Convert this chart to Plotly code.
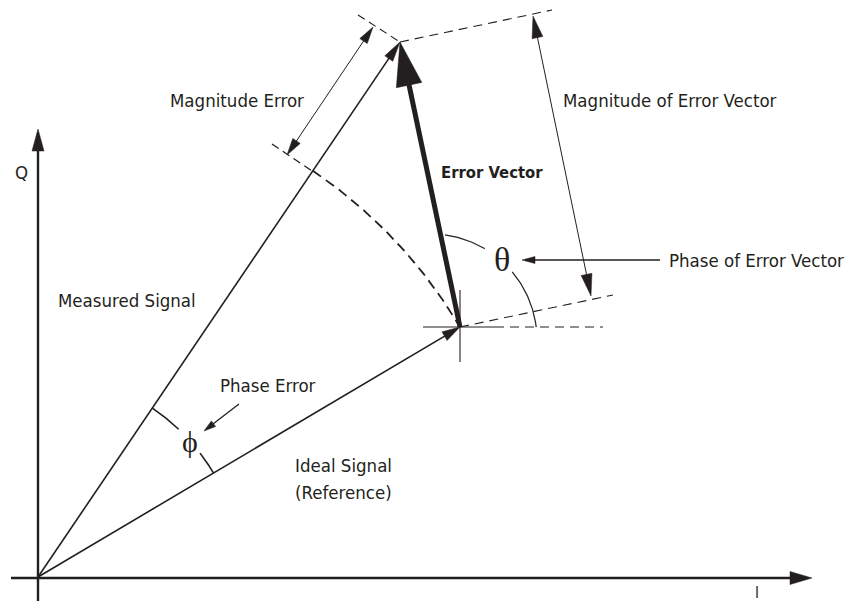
import numpy as np
import plotly.graph_objects as go

# ---- diagram geometry (pixel-like coordinates, y grows downward) ----
ORIGIN = (38, 577)
IDEAL = (460, 327)
MEASURED = (400, 42)
X_AXIS = [(11, 578), (812, 578)]
Y_AXIS = [(38, 601), (38, 129)]
MAG_ERR_DIM = [(287, 155), (373, 27)]
MAG_EV_DIM = [(533, 16), (591, 296)]
PHASE_EV_ARROW = [(660, 260), (522, 260)]
PHASE_ERR_ARROW = [(239, 404), (204, 431)]
EXT_TIP_LEFT = [(358, 15), (400, 42)]
EXT_TIP_RIGHT = [(400, 42), (552, 10)]
EXT_IDEAL_RIGHT = [(460, 327), (613, 295)]
EXT_ARC_LEFT = [(272, 144), (312, 171)]
CROSS_H_SOLID = [(423, 327), (495, 327)]
CROSS_H_DASH = [(495, 327), (603, 327)]
CROSS_V = [(460, 290), (460, 362)]
THETA_CENTER = (431, 340)
THETA_R = 106
THETA_SEGS = [(82.4, 59.5), (40.0, 7.0)]
PHI_R = 204
PHI_SEGS = [(55.9, 46.4), (37.4, 30.6)]

LABELS = [
    ("Q", 21, 172, False, 18.5),
    ("Measured Signal", 127, 300, False, 18.5),
    ("Magnitude Error", 237, 100, False, 18.5),
    ("Error Vector", 492, 172, True, 16.5),
    ("Magnitude of Error Vector", 670, 100, False, 18.5),
    ("Phase of Error Vector", 756, 260, False, 18.5),
    ("Phase Error", 268, 385, False, 18.5),
    ("Ideal Signal", 343, 465, False, 18.5),
    ("(Reference)", 343, 492, False, 18.5),
]
SYMBOLS = [("θ", 502, 259, 34), ("ϕ", 190, 441, 30)]

INK = "#231f20"
FONT = "Liberation Sans Narrow, DejaVu Sans Condensed, Roboto, Arial"

# the page adds an 8px body margin; the figure is sized to fit the window
PAGE_OFFSET = 8
WIN_W, WIN_H = 854, 601

fig = go.Figure()
shapes = []


def line(p, q, w=1.2, dash="solid"):
    shapes.append(dict(type="line", xref="x", yref="y", x0=p[0], y0=p[1],
                       x1=q[0], y1=q[1], line=dict(color=INK, width=w, dash=dash)))


def head(tip, tail, length, halfw):
    tx, ty = tip
    dx, dy = tip[0] - tail[0], tip[1] - tail[1]
    n = np.hypot(dx, dy)
    ux, uy = dx / n, dy / n
    bx, by = tx - ux * length, ty - uy * length
    px, py = -uy, ux
    path = (f"M {tx},{ty} L {bx + px * halfw},{by + py * halfw} "
            f"L {bx - px * halfw},{by - py * halfw} Z")
    shapes.append(dict(type="path", xref="x", yref="y", path=path,
                       fillcolor=INK, line=dict(color=INK, width=0.5)))


def back_off(tip, tail, d):
    dx, dy = tip[0] - tail[0], tip[1] - tail[1]
    n = np.hypot(dx, dy)
    return (tip[0] - dx / n * d, tip[1] - dy / n * d)


def arc(center, r, a0, a1, w, dash):
    t = np.radians(np.linspace(a0, a1, 60))
    xs = center[0] + r * np.cos(t)
    ys = center[1] - r * np.sin(t)
    fig.add_trace(go.Scatter(x=xs, y=ys, mode="lines", hoverinfo="skip",
                             line=dict(color=INK, width=w, dash=dash),
                             showlegend=False))


# axes
line(X_AXIS[0], back_off(X_AXIS[1], X_AXIS[0], 10), w=2.4)
head(X_AXIS[1], X_AXIS[0], 22, 6.5)
line(Y_AXIS[0], back_off(Y_AXIS[1], Y_AXIS[0], 10), w=2.4)
head(Y_AXIS[1], Y_AXIS[0], 22, 6)

# ideal and measured signal vectors
line(ORIGIN, back_off(IDEAL, ORIGIN, 8), w=1.6)
head(IDEAL, ORIGIN, 18, 5)
line(ORIGIN, back_off(MEASURED, ORIGIN, 8), w=1.6)
head(MEASURED, ORIGIN, 20, 4.8)

# error vector
line(IDEAL, back_off(MEASURED, IDEAL, 30), w=5)
head(MEASURED, IDEAL, 44, 13)

# extension / construction lines
line(*EXT_TIP_LEFT, w=1.1, dash="8px,5px")
line(*EXT_TIP_RIGHT, w=1.1, dash="9px,6px")
line(*EXT_IDEAL_RIGHT, w=1.1, dash="9px,6px")
line(*EXT_ARC_LEFT, w=1.3, dash="8px,5px")
line(*CROSS_H_SOLID, w=1.1)
line(*CROSS_H_DASH, w=1.1, dash="9px,6px")
line(*CROSS_V, w=1.1)

# dashed magnitude arc from measured line to ideal point
r_ideal = np.hypot(IDEAL[0] - ORIGIN[0], ORIGIN[1] - IDEAL[1])
a_meas = np.degrees(np.arctan2(ORIGIN[1] - MEASURED[1], MEASURED[0] - ORIGIN[0]))
a_ideal = np.degrees(np.arctan2(ORIGIN[1] - IDEAL[1], IDEAL[0] - ORIGIN[0]))
arc(ORIGIN, r_ideal, a_meas, a_ideal, 1.8, "10px,6px")

# angle arcs
for a0, a1 in THETA_SEGS:
    arc(THETA_CENTER, THETA_R, a0, a1, 1.2, "solid")
for a0, a1 in PHI_SEGS:
    arc(ORIGIN, PHI_R, a0, a1, 1.6, "solid")

# dimension arrows
for dim, L, hw in [(MAG_ERR_DIM, 17, 4.5), (MAG_EV_DIM, 22, 5.5)]:
    p, q = dim
    line(back_off(p, q, 10), back_off(q, p, 10), w=1.0)
    head(p, q, L, hw)
    head(q, p, L, hw)

p, q = PHASE_EV_ARROW
line(p, back_off(q, p, 8), w=1.3)
head(q, p, 13, 3.5)
p, q = PHASE_ERR_ARROW
line(p, back_off(q, p, 8), w=1.3)
head(q, p, 12, 3.5)

# labels
annotations = []
for text, x, y, bold, sz in LABELS:
    annotations.append(dict(x=x, y=y, xref="x", yref="y", showarrow=False,
                            text=f"<b>{text}</b>" if bold else text,
                            font=dict(family=FONT, size=sz, color=INK)))
for text, x, y, sz in SYMBOLS:
    annotations.append(dict(x=x, y=y, xref="x", yref="y", showarrow=False,
                            text=text,
                            font=dict(family="Liberation Serif, DejaVu Serif, serif",
                                      size=sz, color=INK)))
annotations.append(dict(x=757, y=WIN_H, xref="x", yref="y", showarrow=False,
                        text="I", yanchor="bottom", yshift=-3,
                        font=dict(family=FONT, size=15, color=INK)))

fig.update_layout(
    width=WIN_W - PAGE_OFFSET, height=WIN_H - PAGE_OFFSET,
    margin=dict(l=0, r=0, t=0, b=0),
    paper_bgcolor="white", plot_bgcolor="white",
    xaxis=dict(range=[PAGE_OFFSET, WIN_W], visible=False, fixedrange=True),
    yaxis=dict(range=[WIN_H, PAGE_OFFSET], visible=False, fixedrange=True),
    shapes=shapes, annotations=annotations, showlegend=False,
)
fig.write_html("out.html")
